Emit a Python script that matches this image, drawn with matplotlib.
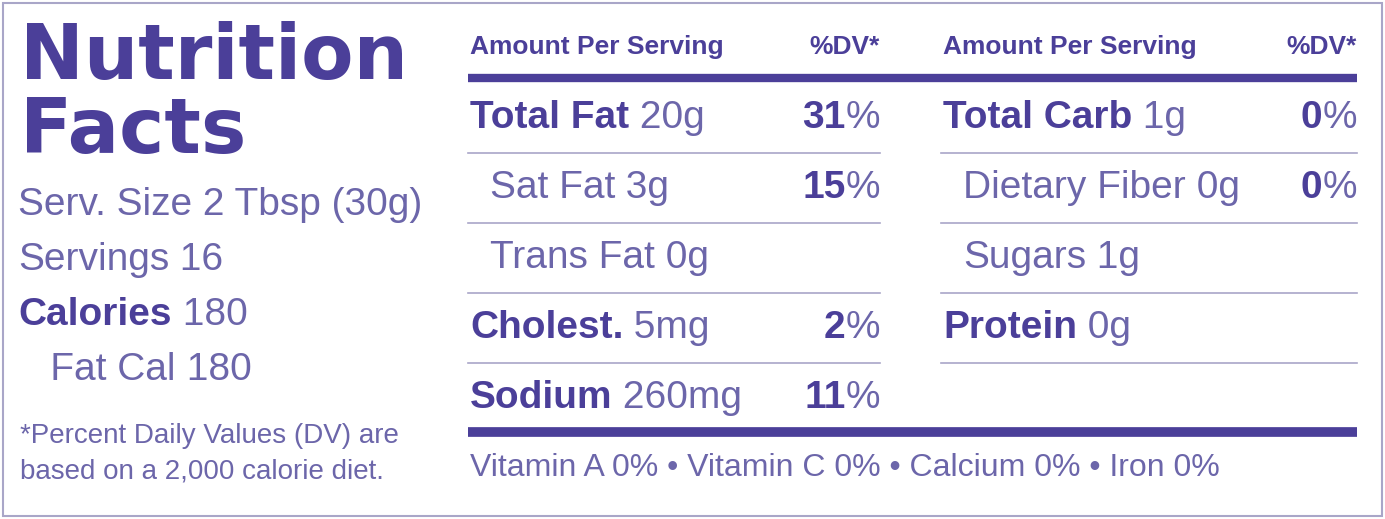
import matplotlib
matplotlib.use("Agg")
import matplotlib.pyplot as plt

DARK = "#4b3f99"
LIGHT = "#6c66aa"
RULE = "#a9a6c8"
FONT = ["Liberation Sans", "DejaVu Sans"]

# nutrient rows: (name, amount, %DV, bold?)
left_names = ["Total Fat", "Sat Fat", "Trans Fat", "Cholest.", "Sodium"]
left_amounts = ["20g", "3g", "0g", "5mg", "260mg"]
left_dv = ["31", "15", "", "2", "11"]
left_bold = [True, False, False, True, True]

right_names = ["Total Carb", "Dietary Fiber", "Sugars", "Protein", ""]
right_amounts = ["1g", "0g", "1g", "0g", ""]
right_dv = ["0", "0", "", "", ""]
right_bold = [True, False, False, True, False]

side_lines = [("Serv. Size", " 2 Tbsp (30g)", False),
              ("Servings", " 16", False),
              ("Calories", " 180", True),
              ("   Fat Cal", " 180", False)]
footnote = ["*Percent Daily Values (DV) are", "based on a 2,000 calorie diet."]
vitamins = "Vitamin A 0% \u2022 Vitamin C 0% \u2022 Calcium 0% \u2022 Iron 0%"

fig = plt.figure(figsize=(13.85, 5.19), dpi=100)
ax = fig.add_axes([0, 0, 1, 1])
ax.set_xlim(0, 1385)
ax.set_ylim(519, 0)
ax.axis("off")
r = fig.canvas.get_renderer()


def pair(x, y, a, b, bold_a, size):
    t = ax.text(x, y, a, fontsize=size, family=FONT, color=DARK if bold_a else LIGHT,
                fontweight="bold" if bold_a else "normal", va="center")
    bb = t.get_window_extent(r)
    ax.text(bb.x1, y, b, fontsize=size, family=FONT, color=LIGHT, va="center")


def dv(xr, y, val, size):
    if not val:
        return
    t = ax.text(xr, y, "%", fontsize=size, family=FONT, color=LIGHT, va="center", ha="right")
    bb = t.get_window_extent(r)
    ax.text(bb.x0, y, val, fontsize=size, family=FONT, color=DARK, fontweight="bold",
            va="center", ha="right")


# border
ax.add_patch(plt.Rectangle((3, 3), 1379, 513, fill=False, ec=RULE, lw=1.5))

# title
ax.text(20, 58, "Nutrition", fontsize=55, family="DejaVu Sans", fontweight="heavy",
        color=DARK, va="center")
ax.text(20, 132, "Facts", fontsize=55, family="DejaVu Sans", fontweight="heavy",
        color=DARK, va="center")
for i, (a, b, bold) in enumerate(side_lines):
    pair(18, 205 + i * 55, a, b, bold, 28)
for i, line in enumerate(footnote):
    ax.text(20, 436 + i * 35, line, fontsize=20, family=FONT, color=LIGHT, va="center")

# table header
for x0, x1 in [(470, 880), (943, 1357)]:
    ax.text(x0, 47, "Amount Per Serving", fontsize=19, family=FONT, fontweight="bold",
            color=DARK, va="center")
    ax.text(x1, 47, "%DV*", fontsize=19, family=FONT, fontweight="bold",
            color=DARK, va="center", ha="right")
ax.plot([468, 1357], [78, 78], color=DARK, lw=6, solid_capstyle="butt")

rows_y = [118 + 70 * i for i in range(5)]
for cols, x0, x1 in [((left_names, left_amounts, left_dv, left_bold), 470, 880),
                     ((right_names, right_amounts, right_dv, right_bold), 943, 1357)]:
    names, amts, dvs, bolds = cols
    for i, y in enumerate(rows_y):
        if names[i]:
            xi = x0 if bolds[i] else x0 + 20
            pair(xi, y, names[i], " " + amts[i], bolds[i], 28)
            dv(x1, y, dvs[i], 28)
        if i < 4:
            ax.plot([x0 - 2, x1], [y + 35, y + 35], color=RULE, lw=1.2)

ax.plot([468, 1357], [432, 432], color=DARK, lw=7, solid_capstyle="butt")
ax.text(470, 468, vitamins, fontsize=23, family=FONT, color=LIGHT, va="center")

fig.savefig("out.png", dpi=100)
